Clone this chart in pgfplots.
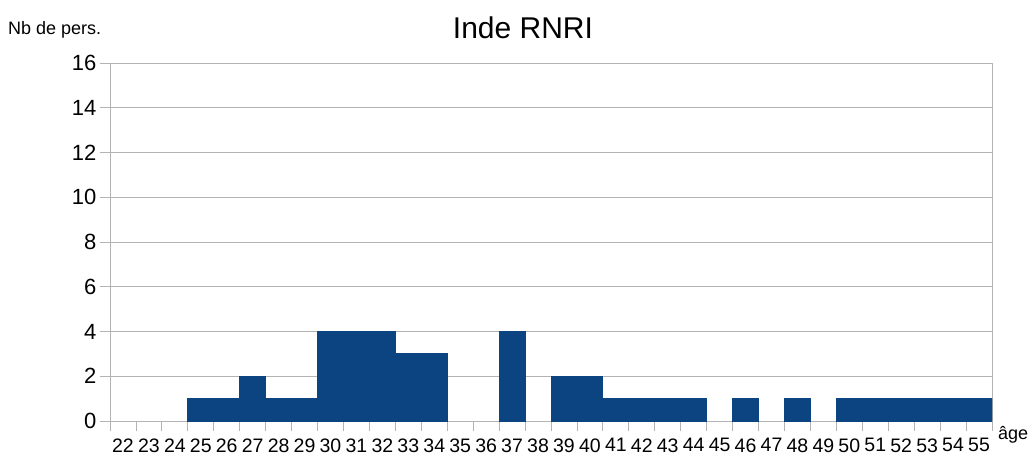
\documentclass[border=0pt]{standalone}
\usepackage{fontspec}
\setmainfont{Liberation Sans}
\usepackage{pgfplots}
\pgfplotsset{compat=1.18}
\definecolor{barblue}{RGB}{12,68,130}
\definecolor{gridgray}{RGB}{179,179,179}
\begin{document}
\begin{tikzpicture}
\useasboundingbox (-110pt,-38pt) rectangle (924pt,421pt);
\begin{axis}[
  at={(0pt,0pt)}, anchor=south west,
  scale only axis, width=882pt, height=358pt,
  xmin=21.5, xmax=55.5, ymin=0, ymax=16,
  ytick={0,2,...,16},
  xtick={21.5,22.5,...,55.5},
  x tick label as interval,
  xticklabels={22,23,24,25,26,27,28,29,30,31,32,33,34,35,36,37,38,39,40,41,42,43,44,45,46,47,48,49,50,51,52,53,54,55},
  /pgf/number format/assume math mode=true,
  yticklabel={\pgfmathprintnumber[assume math mode=true]{\tick}},
  tick align=outside, tick pos=left,
  major tick length=10pt,
  tick style={gridgray, line width=0.8pt},
  axis line style={gridgray, line width=0.8pt},
  ymajorgrids, grid style={gridgray, line width=0.8pt},
  yticklabel style={font=\fontsize{22}{22}\selectfont, text=black},
  xticklabel style={font=\fontsize{19.5}{19.5}\selectfont, text=black, yshift=-4pt},
]
\addplot[ybar, bar width=1, bar shift=0, fill=barblue, draw=barblue, line width=0.9pt] coordinates {
(25,1) (26,1) (27,2) (28,1) (29,1) (30,4) (31,4) (32,4) (33,3) (34,3)
(37,4) (39,2) (40,2) (41,1) (42,1) (43,1) (44,1) (46,1) (48,1)
(50,1) (51,1) (52,1) (53,1) (54,1) (55,1)
};
\end{axis}
\node[font=\fontsize{30}{30}\selectfont] at (413pt,393pt) {Inde RNRI};
\node[font=\fontsize{18}{18}\selectfont, anchor=base west, inner sep=0pt] at (-102pt,386pt) {Nb de pers.};
\node[font=\fontsize{18}{18}\selectfont, anchor=base west, inner sep=0pt] at (888pt,-18pt) {âge};
\end{tikzpicture}
\end{document}
